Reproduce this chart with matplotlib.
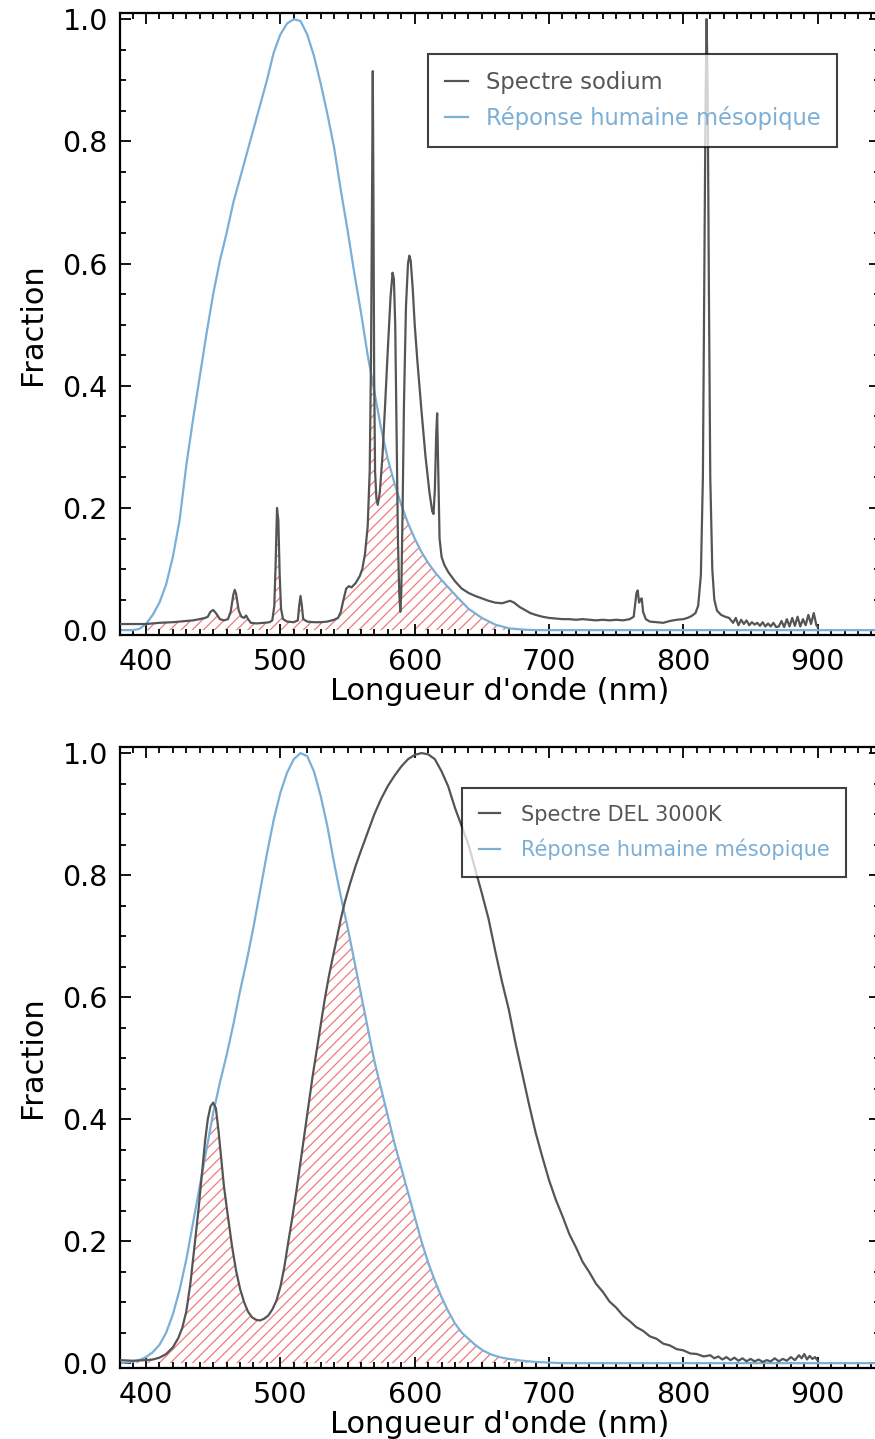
import matplotlib.pyplot as plt
import numpy as np

# Sodium lamp spectrum (top panel)
wl_sodium = [380, 390, 400, 410, 420, 430, 435, 440, 444, 446, 448, 450, 452, 455, 458,
             461, 463, 465, 466, 467, 469, 471, 473, 474.5, 476, 478, 482, 488, 492, 494,
             495.5, 496.5, 497.5, 498.5, 499.5, 500.5, 502, 505, 510, 513, 514, 515, 516, 517,
             520, 525, 530, 535, 540, 543, 545, 547, 549, 551, 553, 556, 559, 561, 563, 565,
             566.5, 567.5, 568.3, 568.8, 569.3, 569.8, 570.5, 571.5, 572.5, 574, 576, 578, 580,
             582, 583.5, 584.5, 585.5, 586.5, 587.5, 588.5, 589.3, 590, 591, 592, 593.5, 595,
             596, 597, 598.5, 600, 602, 605, 608, 611, 613, 614, 615, 616, 616.7, 617.5, 618.5,
             620, 622, 625, 630, 635, 640, 645, 650, 655, 660, 665, 668, 671, 674, 678, 682,
             686, 690, 695, 700, 705, 710, 715, 720, 725, 730, 735, 740, 745, 750, 755, 760,
             763, 765, 766, 767, 768, 769, 770, 772, 775, 780, 785, 790, 795, 800, 803, 806,
             809, 811, 813, 814.5, 815.5, 816.5, 817.3, 818.1, 819, 820, 821.5, 823, 825, 828,
             831, 834, 837, 839, 841, 843, 845, 847, 849, 851, 853, 855, 857, 859, 861, 863,
             865, 867, 869, 871, 873, 875, 877, 879, 881, 883, 885, 887, 889, 891, 893, 895,
             897, 899, 900]
sodium = [0.010, 0.010, 0.010, 0.012, 0.013, 0.015, 0.016, 0.018, 0.020, 0.022, 0.030, 0.033,
          0.028, 0.018, 0.016, 0.018, 0.030, 0.058, 0.066, 0.060, 0.032, 0.022, 0.020, 0.024,
          0.018, 0.012, 0.011, 0.012, 0.013, 0.016, 0.040, 0.110, 0.200, 0.180, 0.090, 0.035,
          0.018, 0.014, 0.013, 0.016, 0.040, 0.056, 0.040, 0.018, 0.014, 0.013, 0.013, 0.014,
          0.017, 0.020, 0.030, 0.050, 0.068, 0.072, 0.070, 0.077, 0.088, 0.100, 0.125, 0.170,
          0.260, 0.450, 0.750, 0.915, 0.700, 0.420, 0.260, 0.215, 0.205, 0.225, 0.285, 0.370,
          0.460, 0.545, 0.585, 0.575, 0.500, 0.330, 0.150, 0.060, 0.030, 0.060, 0.200, 0.370,
          0.530, 0.600, 0.613, 0.605, 0.560, 0.500, 0.440, 0.360, 0.285, 0.225, 0.195, 0.190,
          0.230, 0.320, 0.355, 0.260, 0.150, 0.120, 0.107, 0.095, 0.080, 0.068, 0.061, 0.056,
          0.052, 0.048, 0.045, 0.044, 0.046, 0.048, 0.045, 0.038, 0.033, 0.028, 0.025, 0.022,
          0.020, 0.019, 0.018, 0.018, 0.017, 0.018, 0.017, 0.016, 0.017, 0.016, 0.017, 0.016,
          0.018, 0.022, 0.060, 0.065, 0.045, 0.050, 0.052, 0.030, 0.018, 0.014, 0.013, 0.012,
          0.015, 0.017, 0.018, 0.020, 0.023, 0.028, 0.040, 0.090, 0.250, 0.550, 0.870, 1.000,
          0.870, 0.550, 0.250, 0.100, 0.050, 0.032, 0.025, 0.022, 0.020, 0.012, 0.020, 0.008,
          0.017, 0.010, 0.016, 0.008, 0.013, 0.009, 0.012, 0.007, 0.013, 0.006, 0.011, 0.006,
          0.012, 0.005, 0.006, 0.015, 0.005, 0.018, 0.006, 0.020, 0.007, 0.022, 0.006, 0.018,
          0.008, 0.025, 0.010, 0.028, 0.008, 0.005]

# Mesopic response used in the top panel
wl_meso_top = [380, 390, 395, 400, 405, 410, 415, 420, 425, 430, 435, 440, 445, 450, 455, 460,
               465, 470, 475, 480, 485, 490, 495, 500, 505, 510, 515, 520, 525, 530, 535, 540,
               545, 550, 555, 560, 565, 570, 575, 580, 585, 590, 595, 600, 605, 610, 615, 620,
               625, 630, 640, 650, 660, 670, 680, 690, 946]
meso_top = [0.0, 0.0, 0.002, 0.010, 0.025, 0.045, 0.075, 0.120, 0.180, 0.270, 0.345, 0.415,
            0.485, 0.550, 0.605, 0.650, 0.700, 0.740, 0.780, 0.820, 0.860, 0.900, 0.945, 0.975,
            0.993, 1.000, 0.997, 0.975, 0.940, 0.895, 0.845, 0.790, 0.720, 0.655, 0.585, 0.520,
            0.450, 0.390, 0.330, 0.280, 0.240, 0.205, 0.175, 0.150, 0.128, 0.110, 0.095, 0.082,
            0.070, 0.058, 0.035, 0.020, 0.009, 0.003, 0.001, 0.0, 0.0]

# 3000K LED spectrum (bottom panel)
wl_led = [380, 390, 400, 405, 410, 415, 420, 424, 427, 430, 433, 436, 439, 442, 444, 446, 448,
          450, 452, 454, 456, 458, 461, 464, 467, 470, 473, 476, 479, 482, 485, 488, 491, 494,
          497, 500, 503, 506, 509, 512, 515, 518, 521, 524, 527, 530, 533, 536, 539, 542, 545,
          548, 552, 556, 560, 565, 570, 575, 580, 585, 590, 595, 600, 605, 610, 615, 620, 625,
          630, 635, 640, 645, 650, 655, 660, 665, 670, 675, 680, 685, 690, 695, 700, 705, 710,
          715, 720, 725, 730, 735, 740, 745, 750, 755, 760, 765, 770, 775, 780, 785, 790, 795,
          800, 805, 810, 815, 820, 823, 826, 829, 832, 835, 838, 841, 844, 847, 850, 853, 856,
          859, 862, 865, 868, 871, 874, 877, 880, 883, 886, 888, 890, 892, 894, 896, 898, 900]
led = [0.005, 0.004, 0.005, 0.006, 0.009, 0.015, 0.026, 0.041, 0.058, 0.085, 0.130, 0.190,
       0.250, 0.318, 0.365, 0.400, 0.421, 0.427, 0.418, 0.380, 0.335, 0.290, 0.240, 0.192,
       0.152, 0.122, 0.100, 0.084, 0.075, 0.071, 0.070, 0.073, 0.078, 0.088, 0.102, 0.125,
       0.158, 0.200, 0.240, 0.283, 0.330, 0.378, 0.425, 0.470, 0.512, 0.555, 0.596, 0.633,
       0.665, 0.696, 0.728, 0.756, 0.787, 0.815, 0.840, 0.870, 0.900, 0.925, 0.946, 0.963,
       0.978, 0.990, 0.997, 1.000, 0.998, 0.990, 0.970, 0.945, 0.910, 0.880, 0.850, 0.810,
       0.770, 0.728, 0.675, 0.625, 0.580, 0.525, 0.475, 0.425, 0.378, 0.338, 0.300, 0.268,
       0.241, 0.212, 0.190, 0.166, 0.149, 0.130, 0.117, 0.101, 0.091, 0.078, 0.069, 0.059,
       0.053, 0.044, 0.040, 0.032, 0.029, 0.023, 0.021, 0.016, 0.015, 0.011, 0.013, 0.008,
       0.011, 0.006, 0.010, 0.005, 0.009, 0.004, 0.008, 0.003, 0.007, 0.003, 0.006, 0.002,
       0.005, 0.003, 0.008, 0.003, 0.007, 0.004, 0.010, 0.005, 0.013, 0.008, 0.015, 0.006,
       0.012, 0.007, 0.010, 0.004]

# Mesopic response used in the bottom panel
wl_meso_bot = [380, 390, 395, 400, 405, 410, 415, 420, 425, 430, 435, 440, 445, 450, 455, 460,
               465, 470, 475, 480, 485, 490, 495, 500, 505, 510, 515, 520, 525, 530, 535, 540,
               545, 550, 555, 560, 565, 570, 575, 580, 585, 590, 595, 600, 605, 610, 615, 620,
               625, 630, 635, 640, 645, 650, 655, 660, 665, 670, 680, 690, 700, 710, 946]
meso_bot = [0.0, 0.002, 0.005, 0.010, 0.018, 0.030, 0.050, 0.080, 0.120, 0.170, 0.230, 0.290,
            0.350, 0.410, 0.460, 0.505, 0.555, 0.610, 0.660, 0.715, 0.775, 0.835, 0.890, 0.935,
            0.968, 0.990, 1.000, 0.995, 0.970, 0.930, 0.880, 0.820, 0.765, 0.715, 0.660, 0.605,
            0.550, 0.495, 0.450, 0.405, 0.360, 0.320, 0.280, 0.240, 0.200, 0.165, 0.135, 0.108,
            0.085, 0.065, 0.050, 0.040, 0.030, 0.022, 0.016, 0.012, 0.009, 0.007, 0.004, 0.002,
            0.001, 0.0, 0.0]

spec_color = '#555555'
meso_color = '#7bafd6'
hatch_color = '#ef7a7a'

plt.rcParams['hatch.linewidth'] = 0.9
plt.rcParams['hatch.color'] = hatch_color


def overlap(wl_a, a, wl_b, b):
    # lower envelope of the two curves, on the union of their sample points
    wl = np.union1d(wl_a, wl_b)
    lo = np.minimum(np.interp(wl, wl_a, a, right=0.0), np.interp(wl, wl_b, b, right=0.0))
    return wl, lo


fig = plt.figure(figsize=(8.75, 14.39), dpi=100)
# right spine sits just past the right edge of the picture
ax1 = fig.add_axes([0.1377, 0.5587, 0.8675, 0.4322])
ax2 = fig.add_axes([0.1377, 0.0493, 0.8675, 0.4316])

# axes, data, label, legend anchor, font size, text pad, border pad, label spacing
panels = [
    (ax1, wl_sodium, sodium, 'Spectre sodium', wl_meso_top, meso_top,
     (0.944, 0.934), 16.3, 0.8, 0.73, 0.55),
    (ax2, wl_led, led, 'Spectre DEL 3000K', wl_meso_bot, meso_bot,
     (0.956, 0.934), 15, 1.0, 0.8, 0.68),
]

for ax, wl_s, spec, lab, wl_m, meso, anchor, lfs, htp, bpad, lsp in panels:
    wl_f, lo = overlap(wl_s, spec, wl_m, meso)
    ax.fill_between(wl_f, 0, lo, facecolor='none', edgecolor=hatch_color,
                    hatch='///', linewidth=0, zorder=1)
    ax.plot(wl_s, spec, color=spec_color, lw=1.6, label=lab, zorder=3)
    ax.plot(wl_m, meso, color=meso_color, lw=1.6, label='Réponse humaine mésopique', zorder=2)

    ax.set_xlim(381, 946)
    ax.set_ylim(-0.008, 1.01)
    ax.set_xticks([400, 500, 600, 700, 800, 900])
    ax.set_xticks(np.arange(390, 946, 10), minor=True)
    ax.set_yticks([0.0, 0.2, 0.4, 0.6, 0.8, 1.0])
    ax.set_yticks(np.arange(0, 1.01, 0.05), minor=True)
    ax.tick_params(which='both', direction='in', top=True, right=True, width=1.3,
                   labelsize=20.5, pad=9)
    ax.tick_params(which='major', length=8)
    ax.tick_params(which='minor', length=4)
    for sp in ax.spines.values():
        sp.set_linewidth(1.6)
    ax.set_xlabel("Longueur d'onde (nm)", fontsize=22, labelpad=1)
    ax.set_ylabel('Fraction', fontsize=22, labelpad=11)

    leg = ax.legend(loc='upper right', bbox_to_anchor=anchor, fontsize=lfs, labelcolor='linecolor',
                    fancybox=False, edgecolor='black', framealpha=0.75, handlelength=1.0,
                    handletextpad=htp, borderpad=bpad, labelspacing=lsp, borderaxespad=0)
    leg.get_frame().set_linewidth(1.5)

fig.savefig('out.png', dpi=100, facecolor='white')
